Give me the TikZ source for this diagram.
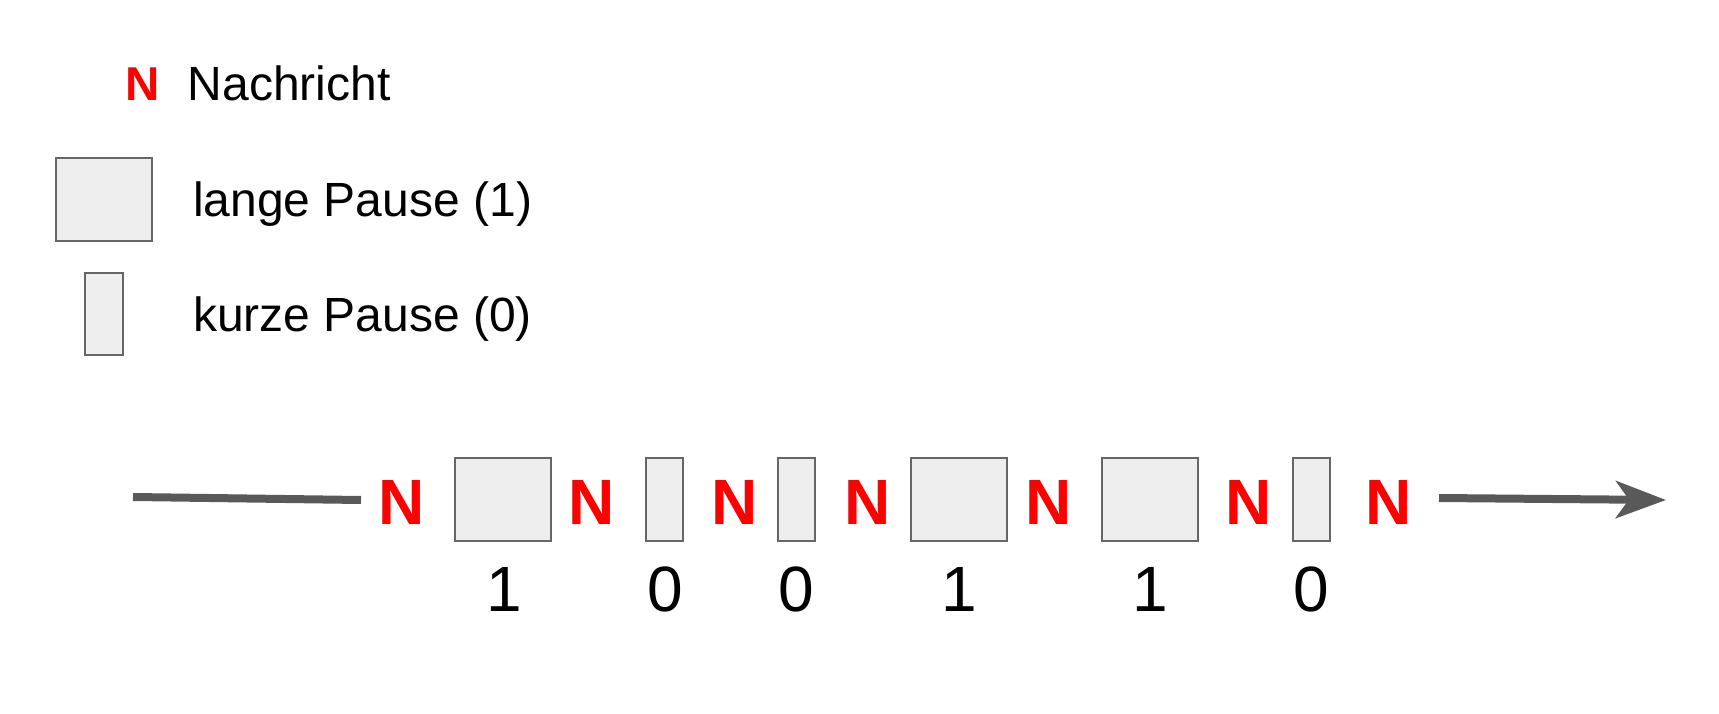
\documentclass[tikz,border=0pt]{standalone}
\usepackage{fontspec}
\setmainfont{Liberation Sans}
\usetikzlibrary{arrows.meta}
\definecolor{boxfill}{HTML}{EEEEEE}
\definecolor{boxline}{HTML}{666666}
\definecolor{axisgray}{HTML}{595959}
\definecolor{nred}{HTML}{FF0000}
\begin{document}
\begin{tikzpicture}[x=1pt,y=-1pt,
  pausebox/.style={rectangle, draw=boxline, fill=boxfill, line width=2pt, inner sep=0pt, minimum height=83pt},
  longp/.style={pausebox, minimum width=96pt},
  shortp/.style={pausebox, minimum width=37pt},
  msg/.style={text=nred, font=\fontsize{64}{77}\selectfont\bfseries, inner sep=0pt, anchor=base},
  legmsg/.style={text=nred, font=\fontsize{47.5}{57}\selectfont\bfseries, inner sep=0pt, anchor=base},
  digit/.style={font=\fontsize{64}{77}\selectfont, inner sep=0pt, anchor=base},
  legtext/.style={font=\fontsize{48}{58}\selectfont, inner sep=0pt, anchor=base west},
  axisline/.style={draw=axisgray, line width=8pt}]
\useasboundingbox (0,0) rectangle (1719,714);

% legend
\node[legmsg] (legN) at (143,101) {N};
\node[legtext] (legNt) at (187.5,101) {Nachricht};
\node[longp] (legL) at (104,199.5) {};
\node[legtext] (legLt) at (193,217) {lange Pause (1)};
\node[pausebox, minimum width=38pt, minimum height=82pt] (legS) at (104,313.5) {};
\node[legtext] (legSt) at (193,331) {kurze Pause (0)};

% sequence
\node[msg] (n1) at (402,524) {N};
\node[longp] (b1) at (503,499.5) {};
\node[msg] (n2) at (592,524) {N};
\node[shortp] (b2) at (664.5,499.5) {};
\node[msg] (n3) at (734.5,524) {N};
\node[shortp] (b3) at (796.5,499.5) {};
\node[msg] (n4) at (867.5,524) {N};
\node[longp] (b4) at (959,499.5) {};
\node[msg] (n5) at (1048.5,524) {N};
\node[longp] (b5) at (1150,499.5) {};
\node[msg] (n6) at (1249,524) {N};
\node[shortp] (b6) at (1311,499.5) {};
\node[msg] (n7) at (1389,524) {N};

% digits
\node[digit] (d1) at (504,611) {1};
\node[digit] (d2) at (665.5,611) {0};
\node[digit] (d3) at (796.5,611) {0};
\node[digit] (d4) at (959,611) {1};
\node[digit] (d5) at (1150,611) {1};
\node[digit] (d6) at (1311,611) {0};

% time axis
\coordinate (ls) at (133,497);
\coordinate (le) at (361,500);
\coordinate (rs) at (1439,498);
\coordinate (re) at (1666,500);
\draw[axisline] (ls) -- (le);
\draw[axisline, -{Stealth[length=50pt, width=37pt, inset=13pt]}] (rs) -- (re);
\end{tikzpicture}
\end{document}
